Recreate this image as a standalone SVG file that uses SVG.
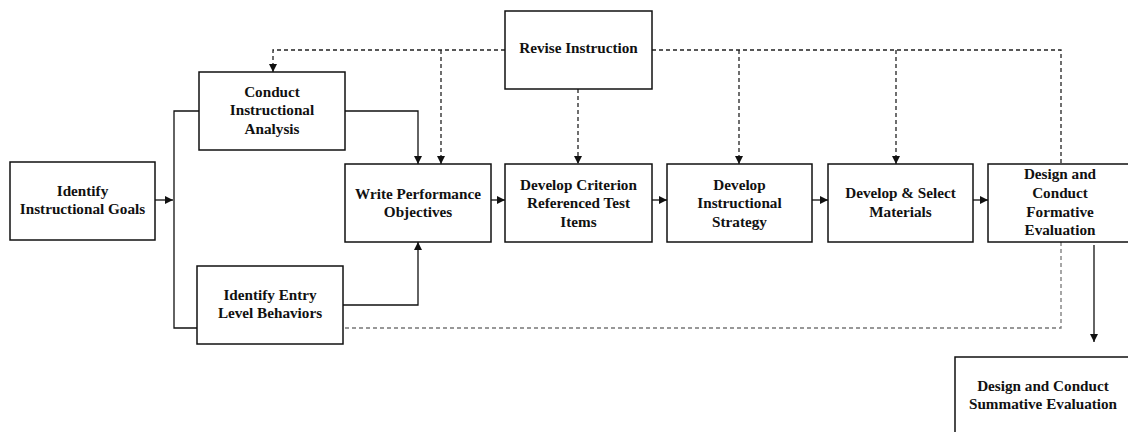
<svg xmlns="http://www.w3.org/2000/svg" width="1128" height="432" viewBox="0 0 1128 432">
<style>
.box{fill:#fff;stroke:#111;stroke-width:1.5}
.t{font-family:"Liberation Serif","Times New Roman",serif;font-weight:bold;font-size:15.2px;fill:#111;text-anchor:middle}
.s{fill:none;stroke:#111;stroke-width:1.3}
.d{fill:none;stroke:#222;stroke-width:1.3;stroke-dasharray:4 3}
.g{fill:none;stroke:#777;stroke-width:1.3;stroke-dasharray:4 3}
</style>
<defs>
<marker id="ah" viewBox="0 0 10 10" refX="10" refY="5" markerWidth="8" markerHeight="8" markerUnits="userSpaceOnUse" orient="auto">
<path d="M0,0L10,5L0,10z" fill="#111"/>
</marker>
</defs>
<rect width="1128" height="432" fill="#fff"/>
<g id="connectors">
<line class="s" x1="155" y1="200" x2="173" y2="200" marker-end="url(#ah)"/>
<polyline class="s" points="199,111 174,111 174,328 197,328"/>
<polyline class="s" points="345,111 418,111 418,164" marker-end="url(#ah)"/>
<polyline class="s" points="343,305 418,305 418,242" marker-end="url(#ah)"/>
<line class="s" x1="491" y1="200" x2="505" y2="200" marker-end="url(#ah)"/>
<line class="s" x1="652" y1="200" x2="667" y2="200" marker-end="url(#ah)"/>
<line class="s" x1="812" y1="200" x2="828" y2="200" marker-end="url(#ah)"/>
<line class="s" x1="973" y1="200" x2="988" y2="200" marker-end="url(#ah)"/>
<line class="s" x1="1094" y1="245" x2="1094" y2="342" marker-end="url(#ah)"/>
<polyline class="d" points="505,50 273,50 273,72" marker-end="url(#ah)"/>
<line class="d" x1="441" y1="50" x2="441" y2="164" marker-end="url(#ah)"/>
<line class="d" x1="578" y1="89" x2="578" y2="164" marker-end="url(#ah)"/>
<polyline class="d" points="652,50 1061,50 1061,164"/>
<line class="d" x1="739" y1="50" x2="739" y2="164" marker-end="url(#ah)"/>
<line class="d" x1="896" y1="50" x2="896" y2="164" marker-end="url(#ah)"/>
<polyline class="g" points="1061,242 1061,328 345,328"/>
</g>
<g id="goals"><rect class="box" x="10" y="162" width="145" height="78"/>
<text class="t" x="82.5" y="196">Identify</text><text class="t" x="82.5" y="214">Instructional Goals</text></g>
<g id="analysis"><rect class="box" x="199" y="72" width="146" height="78"/>
<text class="t" x="272" y="97">Conduct</text><text class="t" x="272" y="115">Instructional</text><text class="t" x="272" y="134">Analysis</text></g>
<g id="entry"><rect class="box" x="197" y="266" width="146" height="78"/>
<text class="t" x="270" y="300">Identify Entry</text><text class="t" x="270" y="318">Level Behaviors</text></g>
<g id="objectives"><rect class="box" x="345" y="164" width="146" height="78"/>
<text class="t" x="418" y="199">Write Performance</text><text class="t" x="418" y="217">Objectives</text></g>
<g id="revise"><rect class="box" x="505" y="11" width="147" height="78"/>
<text class="t" x="578.5" y="53">Revise Instruction</text></g>
<g id="criterion"><rect class="box" x="505" y="164" width="147" height="78"/>
<text class="t" x="578.5" y="190">Develop Criterion</text><text class="t" x="578.5" y="208">Referenced Test</text><text class="t" x="578.5" y="227">Items</text></g>
<g id="strategy"><rect class="box" x="667" y="164" width="145" height="78"/>
<text class="t" x="739.5" y="190">Develop</text><text class="t" x="739.5" y="208">Instructional</text><text class="t" x="739.5" y="227">Strategy</text></g>
<g id="materials"><rect class="box" x="828" y="164" width="145" height="78"/>
<text class="t" x="900.5" y="198">Develop &amp; Select</text><text class="t" x="900.5" y="217">Materials</text></g>
<g id="formative"><rect class="box" x="988" y="164" width="146" height="78"/>
<text class="t" x="1060" y="179">Design and</text><text class="t" x="1060" y="198">Conduct</text><text class="t" x="1060" y="217">Formative</text><text class="t" x="1060" y="235">Evaluation</text></g>
<g id="summative"><rect class="box" x="955" y="357" width="178" height="80"/>
<text class="t" x="1043" y="391">Design and Conduct</text><text class="t" x="1043" y="409">Summative Evaluation</text></g>
</svg>
